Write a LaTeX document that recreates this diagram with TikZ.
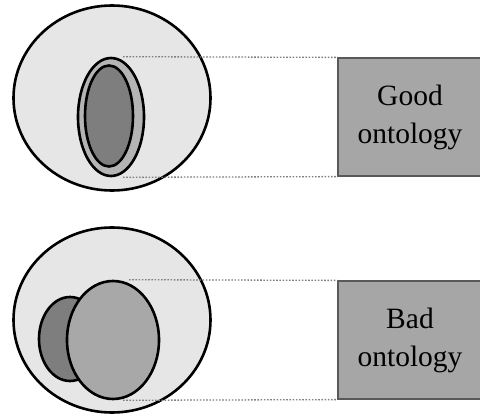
\documentclass[tikz,border=0pt]{standalone}
\usepackage{fontspec}
\setmainfont{Liberation Serif}
\usetikzlibrary{shapes.geometric}
\definecolor{bgfill}{HTML}{E6E6E6}
\definecolor{ringfill}{HTML}{B4B4B4}
\definecolor{darkfill}{HTML}{7E7E7E}
\definecolor{midfill}{HTML}{A8A8A8}
\definecolor{boxfill}{HTML}{A6A6A6}
\tikzset{
  ell/.style={ellipse, draw=black, line width=2.6pt, inner sep=0pt},
  labelbox/.style={rectangle, draw=black!65, line width=1.2pt, fill=boxfill, inner sep=0pt,
    align=center, font=\fontsize{29.5}{38}\selectfont},
  guide/.style={draw=black!50, line width=1.3pt, dash pattern=on 1.6pt off 1.6pt}
}
\begin{document}
\begin{tikzpicture}[x=1pt,y=-1pt]
\useasboundingbox (0,0) rectangle (480,417);
% top: good ontology
\node[ell, fill=bgfill, minimum width=197pt, minimum height=185pt] (outerA) at (112,98) {};
\node[ell, fill=ringfill, minimum width=66pt, minimum height=118pt] (ringA) at (111,117) {};
\node[ell, fill=darkfill, minimum width=48pt, minimum height=101pt] (coreA) at (109,116) {};
\node[labelbox, minimum width=144pt, minimum height=118pt] (goodbox) at (410,117) {Good\\ontology};
\draw[guide] ([xshift=12pt]ringA.north) -- (goodbox.north west);
\draw[guide] ([xshift=12pt]ringA.south) -- (goodbox.south west);
% bottom: bad ontology
\node[ell, fill=bgfill, minimum width=197pt, minimum height=185pt] (outerB) at (112,320) {};
\node[ell, fill=darkfill, minimum width=62pt, minimum height=84pt] (smallB) at (70,339) {};
\node[ell, fill=midfill, minimum width=92pt, minimum height=118pt] (bigB) at (113,340) {};
\node[labelbox, minimum width=144pt, minimum height=118pt] (badbox) at (410,340) {Bad\\ontology};
\draw[guide] ([xshift=16pt]bigB.north) -- (badbox.north west);
\draw[guide] ([xshift=10pt]bigB.south) -- (badbox.south west);
\end{tikzpicture}
\end{document}
